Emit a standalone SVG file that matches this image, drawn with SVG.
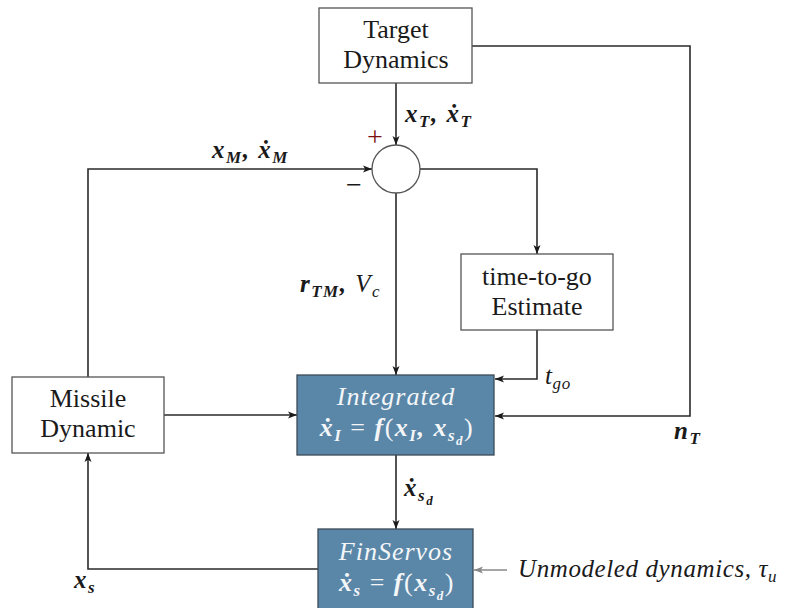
<svg xmlns="http://www.w3.org/2000/svg" width="788" height="608" viewBox="0 0 788 608">
<style>
  .box { fill: #ffffff; stroke: #555555; stroke-width: 1.3; }
  .bbox { fill: #5a87a8; stroke: #3c4a55; stroke-width: 1.3; }
  .t { font-family: "Liberation Serif", "DejaVu Serif", serif; font-size: 26px; fill: #1a1a1a; text-anchor: middle; }
  .tw { font-family: "Liberation Serif", "DejaVu Serif", serif; font-size: 26px; fill: #f4f6f8; text-anchor: middle; }
  .it { font-style: italic; letter-spacing: 1px; }
  .mw { font-weight: bold; font-style: italic; letter-spacing: 1.5px; }
  .m { font-family: "Liberation Serif", "DejaVu Serif", serif; font-size: 25px; font-style: italic; font-weight: bold; fill: #1a1a1a; letter-spacing: 1.5px; }
  .mi { font-family: "Liberation Serif", "DejaVu Serif", serif; font-size: 25px; font-style: italic; fill: #1a1a1a; letter-spacing: 0.6px; }
  .sub { font-size: 17px; }
  .ssub { font-size: 13px; }
  .up { font-style: normal; font-weight: normal; }
  .c { fill: none; stroke: #2a2a2a; stroke-width: 1.6; }
  .cg { fill: none; stroke: #888888; stroke-width: 1.3; }
</style>
<defs>
  <marker id="ah" markerWidth="10" markerHeight="8" refX="9" refY="4" orient="auto" markerUnits="userSpaceOnUse">
    <path d="M0,0.5 L9,4 L0,7.5 L2.2,4 Z" fill="#1a1a1a"/>
  </marker>
  <marker id="ahg" markerWidth="10" markerHeight="8" refX="9" refY="4" orient="auto" markerUnits="userSpaceOnUse">
    <path d="M0,0.5 L9,4 L0,7.5 L2.2,4 Z" fill="#888888"/>
  </marker>
</defs>

<g id="connectors">
  <path class="c" d="M396,83 V145" marker-end="url(#ah)"/>
  <path class="c" d="M472,46 H690 V416 H495" marker-end="url(#ah)"/>
  <path class="c" d="M88,377 V169 H372" marker-end="url(#ah)"/>
  <path class="c" d="M420,169 H537 V254" marker-end="url(#ah)"/>
  <path class="c" d="M396,193 V375" marker-end="url(#ah)"/>
  <path class="c" d="M537,330 V379 H495" marker-end="url(#ah)"/>
  <path class="c" d="M164,415 H297" marker-end="url(#ah)"/>
  <path class="c" d="M396,455 V529" marker-end="url(#ah)"/>
  <path class="c" d="M318,569 H88 V453" marker-end="url(#ah)"/>
  <path class="cg" d="M507,570 H474" marker-end="url(#ahg)"/>
</g>

<g id="target">
  <rect class="box" x="319" y="8" width="153" height="75"/>
  <text class="t" x="396" y="38">Target</text>
  <text class="t" x="396" y="68">Dynamics</text>
</g>

<g id="sum">
  <circle cx="396" cy="169" r="24" fill="#ffffff" stroke="#555555" stroke-width="1.3"/>
  <text x="375" y="146" font-family="Liberation Serif, serif" font-size="28" fill="#7a1010" text-anchor="middle">+</text>
  <text x="354" y="194" font-family="Liberation Serif, serif" font-size="28" fill="#1a1a1a" text-anchor="middle">−</text>
</g>

<g id="tgo">
  <rect class="box" x="461" y="254" width="152" height="76"/>
  <text class="t" x="537" y="285">time-to-go</text>
  <text class="t" x="537" y="315">Estimate</text>
</g>

<g id="missile">
  <rect class="box" x="12" y="377" width="152" height="76"/>
  <text class="t" x="88" y="407">Missile</text>
  <text class="t" x="88" y="437">Dynamic</text>
</g>

<g id="integrated">
  <rect class="bbox" x="297" y="375" width="197" height="80"/>
  <text class="tw it" x="396" y="405">Integrated</text>
  <text class="tw mw" x="397" y="436">ẋ<tspan class="sub" dy="5">I</tspan><tspan class="up" dy="-5"> = </tspan>f<tspan class="up">(</tspan>x<tspan class="sub" dy="5">I</tspan><tspan dy="-5">, x</tspan><tspan class="sub" dy="5">s</tspan><tspan class="ssub" dy="4">d</tspan><tspan class="up" dy="-9">)</tspan></text>
</g>

<g id="finservos">
  <rect class="bbox" x="318" y="529" width="155" height="90"/>
  <text class="tw it" x="396" y="560">FinServos</text>
  <text class="tw mw" x="397" y="591">ẋ<tspan class="sub" dy="5">s</tspan><tspan class="up" dy="-5"> = </tspan>f<tspan class="up">(</tspan>x<tspan class="sub" dy="5">s</tspan><tspan class="ssub" dy="4">d</tspan><tspan class="up" dy="-9">)</tspan></text>
</g>

<g id="labels">
  <text class="m" x="405" y="122">x<tspan class="sub" dy="5">T</tspan><tspan dy="-5">, ẋ</tspan><tspan class="sub" dy="5">T</tspan></text>
  <text class="m" x="212" y="158">x<tspan class="sub" dy="5">M</tspan><tspan dy="-5">, ẋ</tspan><tspan class="sub" dy="5">M</tspan></text>
  <text class="m" x="300" y="292">r<tspan class="sub" dy="5">TM</tspan><tspan dy="-5">, </tspan><tspan font-weight="normal">V</tspan><tspan class="sub" font-weight="normal" dy="5">c</tspan></text>
  <text class="mi" x="545" y="384">t<tspan class="sub" dy="5">go</tspan></text>
  <text class="m" x="674" y="439">n<tspan class="sub" dy="5">T</tspan></text>
  <text class="m" x="404" y="496">ẋ<tspan class="sub" dy="5">s</tspan><tspan class="ssub" dy="4">d</tspan></text>
  <text class="m" x="74" y="588">x<tspan class="sub" dy="5">s</tspan></text>
  <text class="mi" x="518" y="577">Unmodeled dynamics, τ<tspan class="sub" dy="5">u</tspan></text>
</g>
</svg>
